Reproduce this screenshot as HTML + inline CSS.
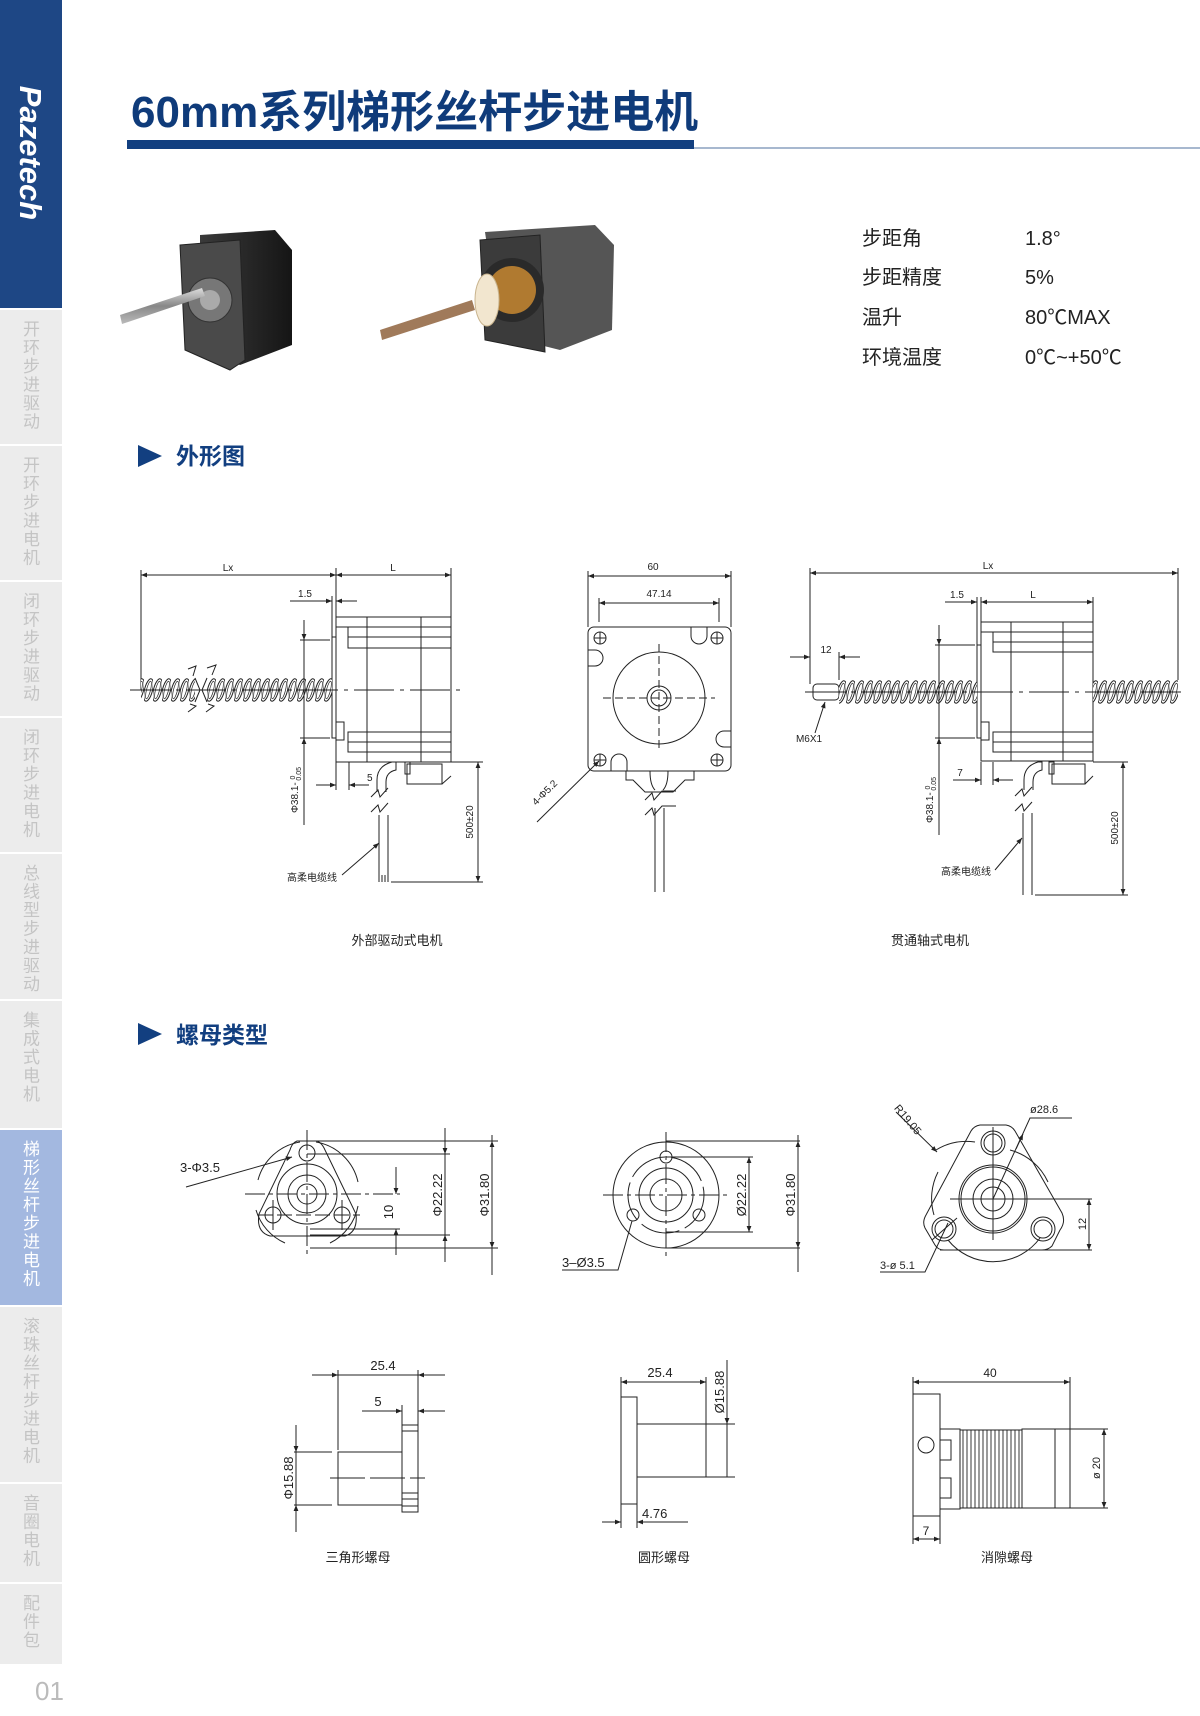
<!DOCTYPE html>
<html><head><meta charset="utf-8"><style>
html,body{margin:0;padding:0;background:#fff;}
#pg{position:relative;width:1200px;height:1716px;overflow:hidden;font-family:"Liberation Sans","Noto Sans CJK SC",sans-serif;}
.sb{position:absolute;left:0;width:62px;background:#ececec;}
.vt{position:absolute;left:22px;writing-mode:vertical-rl;font-size:17px;line-height:18px;letter-spacing:1.5px;color:#c4c4c4;font-family:"Noto Sans CJK SC",sans-serif;}
svg{position:absolute;left:0;top:0;}
</style></head><body><div id="pg">
<div class="sb" style="top:0;height:308px;background:#1e4785"></div>
<div class="sb" style="top:310px;height:134px"></div>
<div class="sb" style="top:446px;height:134px"></div>
<div class="sb" style="top:582px;height:134px"></div>
<div class="sb" style="top:718px;height:134px"></div>
<div class="sb" style="top:854px;height:145px"></div>
<div class="sb" style="top:1001px;height:127px"></div>
<div class="sb" style="top:1130px;height:175px;background:#a3b8e0"></div>
<div class="sb" style="top:1307px;height:175px"></div>
<div class="sb" style="top:1484px;height:98px"></div>
<div class="sb" style="top:1584px;height:80px"></div>
<div class="vt" style="top:320px">开环步进驱动</div>
<div class="vt" style="top:456px">开环步进电机</div>
<div class="vt" style="top:592px">闭环步进驱动</div>
<div class="vt" style="top:728px">闭环步进电机</div>
<div class="vt" style="top:864px">总线型步进驱动</div>
<div class="vt" style="top:1011px">集成式电机</div>
<div class="vt" style="top:1140px;color:#fff">梯形丝杆步进电机</div>
<div class="vt" style="top:1317px">滚珠丝杆步进电机</div>
<div class="vt" style="top:1494px">音圈电机</div>
<div class="vt" style="top:1594px">配件包</div>

<svg width="1200" height="1716" viewBox="0 0 1200 1716" font-family="Liberation Sans, Noto Sans CJK SC, sans-serif">
<defs>
<marker id="a" viewBox="0 0 10 10" refX="10" refY="5" markerWidth="9" markerHeight="6" markerUnits="userSpaceOnUse" orient="auto-start-reverse"><path d="M0,1 L10,5 L0,9z" fill="#222"/></marker>
<pattern id="tA" x="0" y="678" width="9" height="24" patternUnits="userSpaceOnUse"><ellipse cx="4.5" cy="12" rx="4" ry="11.5" transform="rotate(14 4.5 12)" fill="#fff" stroke="#222" stroke-width="1"/><ellipse cx="4.5" cy="12" rx="2" ry="9" transform="rotate(14 4.5 12)" fill="none" stroke="#222" stroke-width=".7"/></pattern>
<pattern id="tB" x="0" y="680" width="9" height="24" patternUnits="userSpaceOnUse"><ellipse cx="4.5" cy="12" rx="4" ry="11.5" transform="rotate(14 4.5 12)" fill="#fff" stroke="#222" stroke-width="1"/><ellipse cx="4.5" cy="12" rx="2" ry="9" transform="rotate(14 4.5 12)" fill="none" stroke="#222" stroke-width=".7"/></pattern>
<linearGradient id="gm" x1="0" x2="1"><stop offset="0" stop-color="#3a3a3a"/><stop offset="1" stop-color="#151515"/></linearGradient>
<linearGradient id="gs" x1="0" y1="0" x2="0" y2="1"><stop offset="0" stop-color="#ddd"/><stop offset=".5" stop-color="#888"/><stop offset="1" stop-color="#bbb"/></linearGradient>
</defs>

<text transform="translate(20,153) rotate(90)" text-anchor="middle" font-size="31" font-weight="bold" font-style="italic" fill="#fff">Pazetech</text>
<text x="35" y="1700" font-size="26" fill="#bbb">01</text>

<text x="131" y="127" font-size="44" font-weight="bold" fill="#0f3b7a">60mm系列梯形丝杆步进电机</text>
<rect x="127" y="140" width="567" height="9" fill="#123f80"/>
<rect x="694" y="147" width="506" height="2" fill="#a7b8cf"/>

<!-- photos -->
<g>
<polygon points="200,235 275,230 292,250 292,345 240,365 215,355 200,340" fill="url(#gm)"/>
<polygon points="180,245 240,240 245,360 230,370 185,350" fill="#4a4a4a" stroke="#222"/>
<circle cx="210" cy="300" r="22" fill="#777" stroke="#333"/>
<circle cx="210" cy="300" r="10" fill="#aaa"/>
<polygon points="120,315 122,324 205,296 202,288" fill="url(#gs)"/>
<polygon points="485,232 595,225 614,245 612,330 560,350 500,335" fill="#555"/>
<polygon points="480,240 540,235 545,352 485,340" fill="#3b3b3b" stroke="#222"/>
<circle cx="512" cy="290" r="32" fill="#2a2a2a"/>
<circle cx="512" cy="290" r="24" fill="#b07a30"/>
<polygon points="380,330 382,340 475,310 472,300" fill="#a07a5a"/>
<ellipse cx="487" cy="300" rx="12" ry="26" fill="#f2e6cf" stroke="#c9b48e"/>
</g>

<g font-size="20" fill="#222">
<text x="862" y="245">步距角</text><text x="1025" y="245">1.8°</text>
<text x="862" y="284">步距精度</text><text x="1025" y="284">5%</text>
<text x="862" y="324">温升</text><text x="1025" y="324">80℃MAX</text>
<text x="862" y="364">环境温度</text><text x="1025" y="364">0℃~+50℃</text>
</g>

<polygon points="138,445 138,467 162,456" fill="#123f80"/>
<text x="176" y="464" font-size="23" font-weight="bold" fill="#123f80">外形图</text>
<polygon points="138,1023 138,1045 162,1034" fill="#123f80"/>
<text x="176" y="1043" font-size="23" font-weight="bold" fill="#123f80">螺母类型</text>

<g stroke="#222" stroke-width="1" fill="none">
<!-- LEFT motor -->
<line x1="141" y1="570" x2="141" y2="690"/><line x1="336" y1="568" x2="336" y2="617"/><line x1="451" y1="568" x2="451" y2="617"/>
<line x1="141" y1="575" x2="336" y2="575" marker-start="url(#a)" marker-end="url(#a)"/>
<line x1="336" y1="575" x2="451" y2="575" marker-start="url(#a)" marker-end="url(#a)"/>
<line x1="290" y1="601" x2="332" y2="601" marker-end="url(#a)"/><line x1="336" y1="601" x2="357" y2="601" marker-start="url(#a)"/>
<line x1="332" y1="596" x2="332" y2="637"/>
<rect x="332" y="637" width="4" height="101"/>
<rect x="336" y="617" width="115" height="145"/>
<polyline points="336,627 348,627 348,648 451,648"/><line x1="348" y1="627" x2="451" y2="627"/><line x1="348" y1="637" x2="451" y2="637"/>
<polyline points="451,732 348,732 348,752 451,752"/><line x1="348" y1="742" x2="451" y2="742"/>
<line x1="367" y1="617" x2="367" y2="762"/><line x1="421" y1="617" x2="421" y2="762"/>
<rect x="336" y="722" width="8" height="18"/>
<rect x="141" y="678" width="54" height="24" fill="url(#tA)" stroke="none"/>
<rect x="207" y="678" width="125" height="24" fill="url(#tA)" stroke="none"/>
<polyline points="195,678 200,690 195,702"/><polyline points="207,678 202,690 207,702"/>
<polyline points="188,669 196,666 193,676"/><polyline points="207,668 216,665 212,675"/>
<polyline points="188,712 196,706 190,704"/><polyline points="206,712 214,706 208,704"/>
<line x1="130" y1="690" x2="460" y2="690" stroke-dasharray="40,6,4,6"/>
<line x1="304" y1="620" x2="304" y2="825"/>
<line x1="304" y1="620" x2="304" y2="640" marker-end="url(#a)"/><line x1="304" y1="758" x2="304" y2="738" marker-end="url(#a)"/>
<line x1="300" y1="640" x2="330" y2="640"/><line x1="300" y1="738" x2="330" y2="738"/>
<line x1="336" y1="762" x2="336" y2="790"/><line x1="349" y1="762" x2="349" y2="790"/>
<line x1="316" y1="785" x2="336" y2="785" marker-end="url(#a)"/><line x1="369" y1="785" x2="349" y2="785" marker-end="url(#a)"/>
<path d="M377,792 L377,780 Q377,766 392,762 L396,762 L396,770 Q386,772 386,782 L386,792"/>
<rect x="407" y="764" width="35" height="20"/><rect x="405" y="762" width="5" height="12"/>
<line x1="442" y1="784" x2="451" y2="776"/>
<polyline points="371,797 378,790 380,797 388,788"/><polyline points="371,812 378,805 380,812 388,803"/>
<line x1="379" y1="815" x2="379" y2="882"/><line x1="388" y1="815" x2="388" y2="882"/><line x1="382" y1="875" x2="382" y2="882"/><line x1="385" y1="875" x2="385" y2="882"/>
<line x1="451" y1="762" x2="483" y2="762"/><line x1="391" y1="882" x2="483" y2="882"/>
<line x1="478" y1="762" x2="478" y2="882" marker-start="url(#a)" marker-end="url(#a)"/>
<line x1="342" y1="875" x2="379" y2="843" marker-end="url(#a)"/>

<!-- MIDDLE front -->
<line x1="588" y1="571" x2="588" y2="627"/><line x1="731" y1="571" x2="731" y2="627"/>
<line x1="588" y1="576" x2="731" y2="576" marker-start="url(#a)" marker-end="url(#a)"/>
<line x1="599" y1="598" x2="599" y2="622"/><line x1="719" y1="598" x2="719" y2="622"/>
<line x1="599" y1="603" x2="719" y2="603" marker-start="url(#a)" marker-end="url(#a)"/>
<rect x="588" y="627" width="143" height="144" rx="6"/>
<path d="M691,627 V636 A8,8 0 0 0 707,636 V627"/><path d="M588,650 H595 A8,8 0 0 1 595,666 H588"/>
<path d="M731,731 H724 A8,8 0 0 0 724,747 H731"/><path d="M611,771 V762 A8,8 0 0 1 627,762 V771"/>
<circle cx="659" cy="698" r="46"/><circle cx="659" cy="698" r="12"/><circle cx="659" cy="698" r="8"/>
<line x1="603" y1="698" x2="715" y2="698" stroke-dasharray="8,4"/><line x1="659" y1="644" x2="659" y2="752" stroke-dasharray="8,4"/>
<g id="hx"><circle cx="600" cy="638" r="6"/><line x1="594" y1="638" x2="606" y2="638"/><line x1="600" y1="632" x2="600" y2="644"/></g>
<use href="#hx" x="117"/><use href="#hx" y="122"/><use href="#hx" x="117" y="122"/>
<polyline points="626,771 626,780 633,780 645,792 673,792 685,780 694,780 694,771"/>
<path d="M650,771 Q650,785 655,790 M668,771 Q668,785 663,790"/>
<polyline points="645,800 652,793 654,800 662,791 676,791"/><polyline points="645,815 652,808 654,815 662,806 676,806"/>
<line x1="655" y1="808" x2="655" y2="892"/><line x1="664" y1="808" x2="664" y2="892"/>
<line x1="537" y1="822" x2="599" y2="761" marker-end="url(#a)"/>

<!-- RIGHT motor -->
<line x1="810" y1="568" x2="810" y2="684"/><line x1="1178" y1="568" x2="1178" y2="680"/>
<line x1="810" y1="573" x2="1178" y2="573" marker-start="url(#a)" marker-end="url(#a)"/>
<line x1="977" y1="597" x2="977" y2="645"/><line x1="981" y1="597" x2="981" y2="622"/><line x1="1093" y1="597" x2="1093" y2="622"/>
<line x1="945" y1="602" x2="977" y2="602" marker-end="url(#a)"/><line x1="981" y1="602" x2="1093" y2="602" marker-start="url(#a)" marker-end="url(#a)"/>
<rect x="977" y="645" width="4" height="93"/>
<rect x="981" y="622" width="112" height="139"/>
<polyline points="981,632 993,632 993,652 1093,652"/><line x1="993" y1="632" x2="1093" y2="632"/><line x1="993" y1="642" x2="1093" y2="642"/>
<polyline points="1093,732 993,732 993,752 1093,752"/><line x1="993" y1="742" x2="1093" y2="742"/>
<line x1="1011" y1="622" x2="1011" y2="761"/><line x1="1063" y1="622" x2="1063" y2="761"/>
<rect x="981" y="722" width="8" height="18"/>
<rect x="813" y="684" width="26" height="16" rx="4"/>
<rect x="839" y="680" width="138" height="24" fill="url(#tB)" stroke="none"/>
<rect x="1093" y="680" width="85" height="24" fill="url(#tB)" stroke="none"/>
<line x1="805" y1="692" x2="1185" y2="692" stroke-dasharray="40,6,4,6"/>
<line x1="839" y1="652" x2="839" y2="680"/>
<line x1="790" y1="657" x2="810" y2="657" marker-end="url(#a)"/><line x1="860" y1="657" x2="839" y2="657" marker-end="url(#a)"/>
<line x1="815" y1="733" x2="825" y2="702" marker-end="url(#a)"/>
<line x1="939" y1="625" x2="939" y2="835"/>
<line x1="939" y1="625" x2="939" y2="645" marker-end="url(#a)"/><line x1="939" y1="758" x2="939" y2="738" marker-end="url(#a)"/>
<line x1="935" y1="645" x2="975" y2="645"/><line x1="935" y1="738" x2="975" y2="738"/>
<line x1="981" y1="762" x2="981" y2="785"/><line x1="993" y1="762" x2="993" y2="785"/>
<line x1="953" y1="780" x2="981" y2="780" marker-end="url(#a)"/><line x1="1013" y1="780" x2="993" y2="780" marker-end="url(#a)"/>
<path d="M1024,790 L1024,780 Q1024,766 1038,762 L1042,762 L1042,770 Q1033,772 1033,782 L1033,790"/>
<rect x="1052" y="764" width="33" height="20"/><rect x="1049" y="762" width="5" height="12"/>
<line x1="1085" y1="784" x2="1093" y2="776"/>
<polyline points="1015,796 1022,789 1024,796 1032,787"/><polyline points="1015,811 1022,804 1024,811 1032,802"/>
<line x1="1023" y1="813" x2="1023" y2="895"/><line x1="1032" y1="813" x2="1032" y2="895"/>
<line x1="1093" y1="762" x2="1128" y2="762"/><line x1="1035" y1="895" x2="1128" y2="895"/>
<line x1="1123" y1="762" x2="1123" y2="895" marker-start="url(#a)" marker-end="url(#a)"/>
<line x1="995" y1="870" x2="1022" y2="838" marker-end="url(#a)"/>

<!-- NUT triangle front -->
<path d="M258,1180 A52,52 0 0 1 300,1142 M316,1142 A52,52 0 0 1 358,1182 M358,1206 A52,52 0 0 1 330,1243 M285,1243 A52,52 0 0 1 256,1210"/>
<path d="M297,1141 L317,1141 Q322,1143 325,1150 L356,1214 Q358,1232 345,1236 L270,1236 Q256,1232 259,1214 L290,1150 Q292,1143 297,1141Z"/>
<circle cx="307" cy="1153" r="8"/><circle cx="273" cy="1215" r="8"/><circle cx="342" cy="1215" r="8"/>
<circle cx="307" cy="1194" r="30"/><circle cx="307" cy="1194" r="19"/><circle cx="307" cy="1194" r="10"/>
<line x1="245" y1="1194" x2="400" y2="1194" stroke-dasharray="20,4,4,4"/>
<line x1="307" y1="1130" x2="307" y2="1258" stroke-dasharray="20,4,4,4"/>
<line x1="258" y1="1215" x2="360" y2="1215" stroke-dasharray="15,4"/>
<line x1="273" y1="1200" x2="273" y2="1230"/><line x1="342" y1="1200" x2="342" y2="1230"/>
<line x1="307" y1="1141" x2="498" y2="1141"/><line x1="307" y1="1154" x2="450" y2="1154"/>
<line x1="310" y1="1229" x2="400" y2="1229"/><line x1="310" y1="1235" x2="450" y2="1235"/><line x1="310" y1="1248" x2="498" y2="1248"/>
<line x1="396" y1="1167" x2="396" y2="1194" marker-end="url(#a)"/><line x1="396" y1="1255" x2="396" y2="1229" marker-end="url(#a)"/>
<line x1="445" y1="1128" x2="445" y2="1154" marker-end="url(#a)"/><line x1="445" y1="1262" x2="445" y2="1235" marker-end="url(#a)"/><line x1="445" y1="1154" x2="445" y2="1235"/>
<line x1="492" y1="1135" x2="492" y2="1275"/><line x1="492" y1="1141" x2="492" y2="1160" marker-start="url(#a)"/><line x1="492" y1="1248" x2="492" y2="1230" marker-start="url(#a)"/>
<line x1="186" y1="1187" x2="292" y2="1157" marker-end="url(#a)"/>

<!-- NUT round front -->
<circle cx="666" cy="1195" r="53"/><circle cx="666" cy="1195" r="38" stroke-dasharray="40,6"/>
<circle cx="666" cy="1195" r="27"/><circle cx="666" cy="1195" r="16"/>
<circle cx="666" cy="1157" r="6"/><circle cx="633" cy="1215" r="6"/><circle cx="699" cy="1215" r="6"/>
<line x1="603" y1="1195" x2="729" y2="1195" stroke-dasharray="20,4,4,4"/><line x1="666" y1="1132" x2="666" y2="1256" stroke-dasharray="20,4,4,4"/>
<line x1="666" y1="1157" x2="753" y2="1157"/><line x1="666" y1="1232" x2="753" y2="1232"/>
<line x1="749" y1="1157" x2="749" y2="1232" marker-start="url(#a)" marker-end="url(#a)"/>
<line x1="666" y1="1141" x2="800" y2="1141"/><line x1="666" y1="1248" x2="800" y2="1248"/>
<line x1="798" y1="1135" x2="798" y2="1272"/><line x1="798" y1="1141" x2="798" y2="1160" marker-start="url(#a)"/><line x1="798" y1="1248" x2="798" y2="1230" marker-start="url(#a)"/>
<polyline points="562,1270 618,1270 632,1221"/>

<!-- NUT antibacklash front -->
<path d="M936,1150 A58,58 0 0 1 975,1142 M1010,1150 A58,58 0 0 1 1048,1182 M1040,1238 A58,58 0 0 1 948,1240 M934,1215 A58,58 0 0 1 938,1172"/>
<path d="M980,1125 L1006,1125 Q1012,1126 1015,1131 L1062,1213 Q1066,1222 1060,1230 L1052,1246 Q1048,1250 1042,1250 L944,1250 Q938,1250 935,1245 L925,1228 Q922,1222 926,1215 L971,1131 Q974,1126 980,1125Z"/>
<circle cx="993" cy="1143" r="12"/><circle cx="993" cy="1143" r="9"/>
<circle cx="944" cy="1229" r="12"/><circle cx="944" cy="1229" r="9"/>
<circle cx="1043" cy="1229" r="12"/><circle cx="1043" cy="1229" r="9"/>
<circle cx="993" cy="1199" r="34"/><circle cx="993" cy="1199" r="32"/><circle cx="993" cy="1199" r="20"/><circle cx="993" cy="1199" r="12"/>
<line x1="950" y1="1199" x2="1092" y2="1199"/><line x1="993" y1="1127" x2="993" y2="1240"/>
<line x1="940" y1="1250" x2="1092" y2="1250"/>
<line x1="1089" y1="1199" x2="1089" y2="1250" marker-start="url(#a)" marker-end="url(#a)"/>
<line x1="896" y1="1112" x2="937" y2="1152" marker-end="url(#a)"/>
<polyline points="1072,1118 1030,1118 993,1199"/><line x1="1016" y1="1149" x2="1023" y2="1134" marker-end="url(#a)"/>
<polyline points="880,1272 925,1272 948,1223"/><line x1="932" y1="1240" x2="957" y2="1218"/>

<!-- SIDE triangle -->
<line x1="338" y1="1370" x2="338" y2="1450"/><line x1="418" y1="1370" x2="418" y2="1425"/><line x1="402" y1="1405" x2="402" y2="1425"/>
<line x1="312" y1="1375" x2="338" y2="1375" marker-end="url(#a)"/><line x1="445" y1="1375" x2="418" y2="1375" marker-end="url(#a)"/><line x1="338" y1="1375" x2="418" y2="1375"/>
<line x1="362" y1="1411" x2="402" y2="1411" marker-end="url(#a)"/><line x1="445" y1="1411" x2="418" y2="1411" marker-end="url(#a)"/>
<rect x="402" y="1425" width="16" height="87"/><line x1="402" y1="1431" x2="418" y2="1431"/><line x1="402" y1="1493" x2="418" y2="1493"/><line x1="402" y1="1499" x2="418" y2="1499"/><line x1="402" y1="1506" x2="418" y2="1506"/>
<rect x="338" y="1452" width="64" height="53"/>
<line x1="330" y1="1478" x2="425" y2="1478" stroke-dasharray="35,5"/>
<line x1="294" y1="1452" x2="332" y2="1452"/><line x1="294" y1="1505" x2="332" y2="1505"/>
<line x1="296" y1="1425" x2="296" y2="1452" marker-end="url(#a)"/><line x1="296" y1="1532" x2="296" y2="1505" marker-end="url(#a)"/><line x1="296" y1="1452" x2="296" y2="1505"/>

<!-- SIDE round -->
<rect x="621" y="1397" width="16" height="107"/><rect x="637" y="1424" width="69" height="53"/>
<line x1="621" y1="1377" x2="621" y2="1397"/><line x1="706" y1="1377" x2="706" y2="1424"/>
<line x1="621" y1="1382" x2="706" y2="1382" marker-start="url(#a)" marker-end="url(#a)"/>
<line x1="706" y1="1424" x2="735" y2="1424"/><line x1="706" y1="1477" x2="735" y2="1477"/>
<line x1="727" y1="1360" x2="727" y2="1477"/><line x1="727" y1="1405" x2="727" y2="1424" marker-end="url(#a)"/>
<line x1="621" y1="1504" x2="621" y2="1528"/><line x1="637" y1="1504" x2="637" y2="1528"/>
<line x1="602" y1="1522" x2="621" y2="1522" marker-end="url(#a)"/><line x1="688" y1="1522" x2="637" y2="1522" marker-end="url(#a)"/>

<!-- SIDE antibacklash -->
<rect x="913" y="1394" width="27" height="122"/><circle cx="926" cy="1445" r="8"/>
<rect x="940" y="1429" width="20" height="80"/>
<rect x="940" y="1440" width="11" height="20"/><rect x="940" y="1478" width="11" height="20"/>
<path d="M960,1430 H1022 M960,1508 H1022" />
<g stroke-width=".9">
<path d="M963,1430 v78 M967,1430 v78 M971,1430 v78 M975,1430 v78 M979,1430 v78 M983,1430 v78 M987,1430 v78 M991,1430 v78 M995,1430 v78 M999,1430 v78 M1003,1430 v78 M1007,1430 v78 M1011,1430 v78 M1015,1430 v78 M1019,1430 v78"/>
</g>
<rect x="1022" y="1429" width="48" height="79"/><line x1="1055" y1="1429" x2="1055" y2="1508"/>
<line x1="913" y1="1377" x2="913" y2="1394"/><line x1="1070" y1="1377" x2="1070" y2="1429"/>
<line x1="913" y1="1382" x2="1070" y2="1382" marker-start="url(#a)" marker-end="url(#a)"/>
<line x1="1070" y1="1429" x2="1108" y2="1429"/><line x1="1070" y1="1508" x2="1108" y2="1508"/>
<line x1="1104" y1="1429" x2="1104" y2="1508" marker-start="url(#a)" marker-end="url(#a)"/>
<line x1="913" y1="1516" x2="913" y2="1544"/><line x1="940" y1="1516" x2="940" y2="1544"/>
<line x1="913" y1="1539" x2="940" y2="1539" marker-start="url(#a)" marker-end="url(#a)"/>
</g>

<g font-size="10" fill="#222">
<text x="228" y="571" text-anchor="middle">Lx</text><text x="393" y="571" text-anchor="middle">L</text>
<text x="305" y="597" text-anchor="middle">1.5</text><text x="367" y="781">5</text>
<text transform="translate(298,790) rotate(-90)" text-anchor="middle">Φ38.1- <tspan font-size="7" dy="-3">0</tspan><tspan font-size="7" dy="6" dx="-5">0.05</tspan></text>
<text transform="translate(473,822) rotate(-90)" text-anchor="middle">500±20</text>
<text x="312" y="881" text-anchor="middle">高柔电缆线</text>
<text x="653" y="570" text-anchor="middle">60</text><text x="659" y="597" text-anchor="middle">47.14</text>
<text transform="translate(547,795) rotate(-45)" text-anchor="middle">4-Φ5.2</text>
<text x="988" y="569" text-anchor="middle">Lx</text><text x="1033" y="598" text-anchor="middle">L</text>
<text x="957" y="598" text-anchor="middle">1.5</text><text x="826" y="653" text-anchor="middle">12</text>
<text x="809" y="742" text-anchor="middle">M6X1</text><text x="960" y="776" text-anchor="middle">7</text>
<text transform="translate(933,800) rotate(-90)" text-anchor="middle">Φ38.1- <tspan font-size="7" dy="-3">0</tspan><tspan font-size="7" dy="6" dx="-5">0.05</tspan></text>
<text transform="translate(1118,828) rotate(-90)" text-anchor="middle">500±20</text>
<text x="966" y="875" text-anchor="middle">高柔电缆线</text>
</g>
<g font-size="13" fill="#222">
<text x="180" y="1172">3-Φ3.5</text>
<text transform="translate(393,1212) rotate(-90)" text-anchor="middle">10</text>
<text transform="translate(442,1195) rotate(-90)" text-anchor="middle">Φ22.22</text>
<text transform="translate(489,1195) rotate(-90)" text-anchor="middle">Φ31.80</text>
<text x="562" y="1267">3–Ø3.5</text>
<text transform="translate(746,1195) rotate(-90)" text-anchor="middle">Ø22.22</text>
<text transform="translate(795,1195) rotate(-90)" text-anchor="middle">Φ31.80</text>
<text transform="translate(905,1122) rotate(50)" text-anchor="middle" font-size="11">R19.05</text>
<text x="1030" y="1113" font-size="11">ø28.6</text>
<text transform="translate(1086,1224) rotate(-90)" text-anchor="middle" font-size="11">12</text>
<text x="880" y="1269" font-size="11">3-ø 5.1</text>
<text x="383" y="1370" text-anchor="middle">25.4</text><text x="378" y="1406" text-anchor="middle">5</text>
<text transform="translate(293,1478) rotate(-90)" text-anchor="middle">Φ15.88</text>
<text x="660" y="1377" text-anchor="middle">25.4</text>
<text transform="translate(724,1392) rotate(-90)" text-anchor="middle">Ø15.88</text>
<text x="642" y="1518">4.76</text>
<text x="990" y="1377" text-anchor="middle" font-size="12">40</text>
<text transform="translate(1100,1468) rotate(-90)" text-anchor="middle" font-size="11">ø 20</text>
<text x="926" y="1535" text-anchor="middle" font-size="12">7</text>
</g>
<g font-size="13" fill="#222" text-anchor="middle">
<text x="397" y="945">外部驱动式电机</text><text x="930" y="945">贯通轴式电机</text>
<text x="358" y="1562">三角形螺母</text><text x="664" y="1562">圆形螺母</text><text x="1007" y="1562">消隙螺母</text>
</g>
</svg>
</div></body></html>
